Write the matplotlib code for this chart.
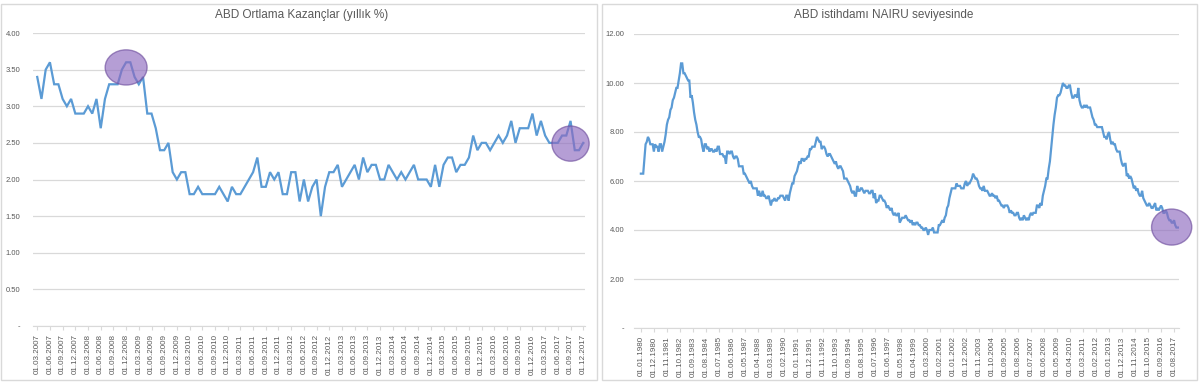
import numpy as np
import pandas as pd
import matplotlib
matplotlib.use("Agg")
import matplotlib.pyplot as plt
import matplotlib.patches as patches

plt.rcParams['font.family'] = ['Liberation Sans', 'DejaVu Sans']

# ABD ortalama saatlik kazanclar, yillik % (aylik, 03.2007 - 12.2017)
earnings_start = '2007-03-01'
earnings = [
    3.4, 3.1, 3.5, 3.6, 3.3, 3.3, 3.1, 3.0, 3.1, 2.9,
    2.9, 2.9, 3.0, 2.9, 3.1, 2.7, 3.1, 3.3, 3.3, 3.3, 3.5, 3.6,
    3.6, 3.4, 3.3, 3.4, 2.9, 2.9, 2.7, 2.4, 2.4, 2.5, 2.1, 2.0,
    2.1, 2.1, 1.8, 1.8, 1.9, 1.8, 1.8, 1.8, 1.8, 1.9, 1.8, 1.7,
    1.9, 1.8, 1.8, 1.9, 2.0, 2.1, 2.3, 1.9, 1.9, 2.1, 2.0, 2.1,
    1.8, 1.8, 2.1, 2.1, 1.7, 2.0, 1.7, 1.9, 2.0, 1.5, 1.9, 2.1,
    2.1, 2.2, 1.9, 2.0, 2.1, 2.2, 2.0, 2.3, 2.1, 2.2, 2.2, 2.0,
    2.0, 2.2, 2.1, 2.0, 2.1, 2.0, 2.1, 2.2, 2.0, 2.0, 2.0, 1.9,
    2.2, 1.9, 2.2, 2.3, 2.3, 2.1, 2.2, 2.2, 2.3, 2.6, 2.4, 2.5,
    2.5, 2.4, 2.5, 2.6, 2.5, 2.6, 2.8, 2.5, 2.7, 2.7, 2.7, 2.9,
    2.6, 2.8, 2.6, 2.5, 2.5, 2.5, 2.6, 2.6, 2.8, 2.4, 2.4, 2.5,
]
earnings_ticks = [4.0, 3.5, 3.0, 2.5, 2.0, 1.5, 1.0, 0.5, 0.0]

# ABD issizlik orani (aylik, 01.1980 - 12.2017)
unemp_start = '1980-01-01'
unemp = [
    6.3, 6.3, 6.3, 6.9, 7.5, 7.6, 7.8, 7.7, 7.5, 7.5, 7.5, 7.2,
    7.5, 7.4, 7.4, 7.2, 7.5, 7.5, 7.2, 7.4, 7.6, 7.9, 8.3, 8.5,
    8.6, 8.9, 9.0, 9.3, 9.4, 9.6, 9.8, 9.8, 10.1, 10.4, 10.8, 10.8,
    10.4, 10.4, 10.3, 10.2, 10.1, 10.1, 9.4, 9.5, 9.2, 8.8, 8.5, 8.3,
    8.0, 7.8, 7.8, 7.7, 7.4, 7.2, 7.5, 7.5, 7.3, 7.4, 7.2, 7.3,
    7.3, 7.2, 7.2, 7.3, 7.2, 7.4, 7.4, 7.1, 7.1, 7.1, 7.0, 7.0,
    6.7, 7.2, 7.2, 7.1, 7.2, 7.2, 7.0, 6.9, 7.0, 7.0, 6.9, 6.6,
    6.6, 6.6, 6.6, 6.3, 6.3, 6.2, 6.1, 6.0, 5.9, 6.0, 5.8, 5.7,
    5.7, 5.7, 5.7, 5.4, 5.6, 5.4, 5.4, 5.6, 5.4, 5.4, 5.3, 5.3,
    5.4, 5.2, 5.0, 5.2, 5.2, 5.3, 5.2, 5.2, 5.3, 5.3, 5.4, 5.4,
    5.4, 5.3, 5.2, 5.4, 5.4, 5.2, 5.5, 5.7, 5.9, 5.9, 6.2, 6.3,
    6.4, 6.6, 6.8, 6.7, 6.9, 6.9, 6.8, 6.9, 6.9, 7.0, 7.0, 7.3,
    7.3, 7.4, 7.4, 7.4, 7.6, 7.8, 7.7, 7.6, 7.6, 7.3, 7.4, 7.4,
    7.3, 7.1, 7.0, 7.1, 7.1, 7.0, 6.9, 6.8, 6.7, 6.8, 6.6, 6.5,
    6.6, 6.6, 6.5, 6.4, 6.1, 6.1, 6.1, 6.0, 5.9, 5.8, 5.6, 5.5,
    5.6, 5.4, 5.4, 5.8, 5.6, 5.6, 5.7, 5.7, 5.6, 5.5, 5.6, 5.6,
    5.6, 5.5, 5.5, 5.6, 5.6, 5.3, 5.5, 5.1, 5.2, 5.2, 5.4, 5.4,
    5.3, 5.2, 5.2, 5.1, 4.9, 5.0, 4.9, 4.8, 4.9, 4.7, 4.6, 4.7,
    4.6, 4.6, 4.7, 4.3, 4.4, 4.5, 4.5, 4.5, 4.6, 4.5, 4.4, 4.4,
    4.3, 4.4, 4.2, 4.3, 4.2, 4.3, 4.3, 4.2, 4.2, 4.1, 4.1, 4.0,
    4.0, 4.1, 4.0, 3.8, 4.0, 4.0, 4.0, 4.1, 3.9, 3.9, 3.9, 3.9,
    4.2, 4.2, 4.3, 4.4, 4.3, 4.5, 4.6, 4.9, 5.0, 5.3, 5.5, 5.7,
    5.7, 5.7, 5.7, 5.9, 5.8, 5.8, 5.8, 5.7, 5.7, 5.7, 5.9, 6.0,
    5.8, 5.9, 5.9, 6.0, 6.1, 6.3, 6.2, 6.1, 6.1, 6.0, 5.8, 5.7,
    5.7, 5.6, 5.8, 5.6, 5.6, 5.6, 5.5, 5.4, 5.4, 5.5, 5.4, 5.4,
    5.3, 5.4, 5.2, 5.2, 5.1, 5.0, 5.0, 4.9, 5.0, 5.0, 5.0, 4.9,
    4.7, 4.8, 4.7, 4.7, 4.6, 4.6, 4.7, 4.7, 4.5, 4.4, 4.5, 4.4,
    4.6, 4.5, 4.4, 4.5, 4.4, 4.6, 4.7, 4.6, 4.7, 4.7, 4.7, 5.0,
    5.0, 4.9, 5.1, 5.0, 5.4, 5.6, 5.8, 6.1, 6.1, 6.5, 6.8, 7.3,
    7.8, 8.3, 8.7, 9.0, 9.4, 9.5, 9.5, 9.6, 9.8, 10.0, 9.9, 9.9,
    9.8, 9.8, 9.9, 9.9, 9.6, 9.4, 9.4, 9.5, 9.5, 9.4, 9.8, 9.3,
    9.1, 9.0, 9.0, 9.1, 9.0, 9.1, 9.0, 9.0, 9.0, 8.8, 8.6, 8.5,
    8.3, 8.3, 8.2, 8.2, 8.2, 8.2, 8.2, 8.0, 7.8, 7.8, 7.7, 7.9,
    8.0, 7.7, 7.5, 7.6, 7.5, 7.5, 7.3, 7.2, 7.2, 7.2, 6.9, 6.7,
    6.6, 6.7, 6.7, 6.2, 6.3, 6.1, 6.2, 6.1, 5.9, 5.7, 5.8, 5.6,
    5.7, 5.5, 5.4, 5.4, 5.6, 5.3, 5.2, 5.1, 5.0, 5.0, 5.1, 5.0,
    4.9, 4.9, 5.0, 5.1, 4.8, 4.9, 4.8, 4.9, 5.0, 4.9, 4.7, 4.7,
    4.8, 4.7, 4.5, 4.4, 4.4, 4.3, 4.3, 4.4, 4.2, 4.1, 4.1, 4.1,
]
unemp_ticks = [12.0, 10.0, 8.0, 6.0, 4.0, 2.0, 0.0]

# vurgulanan bolgeler: (ay indeksi, deger, genislik[ay], yukseklik)
earnings_marks = [(21, 3.53, 9.9, 0.48), (126, 2.49, 8.8, 0.48)]
unemp_marks = [(449, 4.12, 34, 1.47)]

LINE = '#5b9bd5'
GRID = '#d9d9d9'
TXT = '#595959'
W, H = 1200, 382


def fmt_tick(v):
    return '-' if v == 0 else f'{v:.2f}'


def draw_panel(fig, rect_px, box_px, title, title_x, values, start, step,
               ticks, xlim, marks, ypad):
    x0, x1, ytop, ybot = rect_px
    ax = fig.add_axes([x0 / W, 1 - ybot / H, (x1 - x0) / W, (ybot - ytop) / H])
    dates = pd.date_range(start, periods=len(values), freq='MS')
    idx = np.arange(len(values))
    ax.plot(idx, values, color=LINE, lw=1.6, solid_joinstyle='miter', zorder=3)

    ax.set_ylim(0, max(ticks))
    ax.set_xlim(*xlim)
    ax.set_yticks(ticks)
    ax.set_yticklabels([fmt_tick(t) for t in ticks])
    ax.grid(axis='y', color=GRID, lw=0.9)
    ax.set_axisbelow(True)
    for s in ['top', 'right', 'left']:
        ax.spines[s].set_visible(False)
    ax.spines['bottom'].set_color(GRID)
    ax.tick_params(axis='y', length=0, labelsize=5.5, labelcolor=TXT, pad=ypad)

    tick_idx = idx[::step]
    ax.set_xticks(tick_idx)
    ax.set_xticklabels([dates[i].strftime('%d.%m.%Y') for i in tick_idx],
                       rotation=90)
    ax.tick_params(axis='x', length=3, color=GRID, labelsize=5.8,
                   labelcolor=TXT, pad=3)

    for cx, cy, w, h in marks:
        e = patches.Ellipse((cx, cy), w, h, facecolor='#8e6bbf', alpha=0.65,
                            edgecolor='#6f4f9e', lw=1.0, zorder=4, clip_on=False)
        ax.add_patch(e)

    bx0, bx1 = box_px
    fig.patches.append(patches.Rectangle((bx0 / W, 2 / H), (bx1 - bx0) / W, 376 / H,
                                         transform=fig.transFigure, fill=False,
                                         edgecolor=GRID, lw=1.0))
    fig.text(title_x / W, 1 - 15 / H, title, ha='center', va='center',
             fontsize=8.5, color=TXT)
    return ax


fig = plt.figure(figsize=(W / 100, H / 100), dpi=100)
fig.patch.set_facecolor('white')

draw_panel(fig, (33, 584.5, 33, 326), (1, 597), 'ABD Ortlama Kazançlar (yıllık %)', 302,
           earnings, earnings_start, 3, earnings_ticks, (-1.0, 129.3), earnings_marks, 9)
draw_panel(fig, (634, 1179, 34, 328), (602, 1197), 'ABD istihdamı NAIRU seviyesinde', 884,
           unemp, unemp_start, 11, unemp_ticks, (-5.8, 455.2), unemp_marks, 7)

fig.savefig('out.png', dpi=100, facecolor='white')
